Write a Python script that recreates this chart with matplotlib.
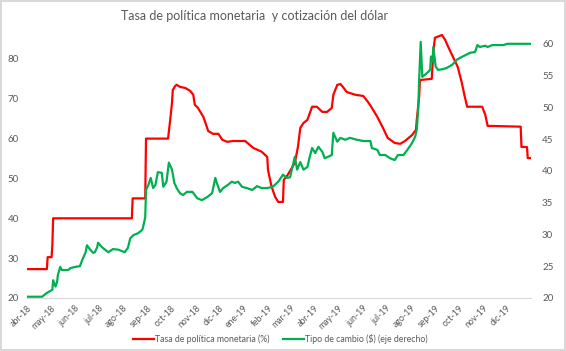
import pandas as pd
import matplotlib.pyplot as plt
import matplotlib.dates as mdates

plt.rcParams['font.family'] = ['Lato', 'DejaVu Sans']

TITLE = "Tasa de política monetaria  y cotización del dólar"
RATE_LABEL = "Tasa de política monetaria (%)"
FX_LABEL = "Tipo de cambio ($) (eje derecho)"
MONTHS_ES = ["ene", "feb", "mar", "abr", "may", "jun",
             "jul", "ago", "sep", "oct", "nov", "dic"]

# policy rate (left axis)
rate_dates = [
    "2018-04-01", "2018-04-26", "2018-04-27", "2018-05-02", "2018-05-03", "2018-05-04",
    "2018-08-12", "2018-08-13", "2018-08-29", "2018-08-30", "2018-09-27", "2018-09-30",
    "2018-10-02", "2018-10-03", "2018-10-06", "2018-10-08", "2018-10-12", "2018-10-19",
    "2018-10-25", "2018-10-29", "2018-10-31", "2018-11-04", "2018-11-11", "2018-11-17",
    "2018-11-23", "2018-11-30", "2018-12-05", "2018-12-11", "2018-12-19", "2019-01-03",
    "2019-01-13", "2019-01-24", "2019-01-31", "2019-02-01", "2019-02-05", "2019-02-07",
    "2019-02-10", "2019-02-14", "2019-02-20", "2019-02-21", "2019-02-26", "2019-03-07",
    "2019-03-11", "2019-03-14", "2019-03-18", "2019-03-23", "2019-03-29", "2019-04-04",
    "2019-04-11", "2019-04-17", "2019-04-23", "2019-04-25", "2019-04-30", "2019-05-04",
    "2019-05-07", "2019-05-12", "2019-05-23", "2019-06-02", "2019-06-08", "2019-06-13",
    "2019-06-20", "2019-06-27", "2019-07-03", "2019-07-12", "2019-07-19", "2019-07-25",
    "2019-08-03", "2019-08-08", "2019-08-09", "2019-08-12", "2019-08-13", "2019-08-28",
    "2019-08-30", "2019-09-01", "2019-09-10", "2019-09-14", "2019-09-18", "2019-09-24",
    "2019-09-30", "2019-10-05", "2019-10-09", "2019-10-12", "2019-10-31", "2019-11-04",
    "2019-11-07", "2019-12-19", "2019-12-20", "2019-12-27", "2019-12-28", "2019-12-31",
]
rate_values = [
    27.25, 27.25, 30.25, 30.25, 33.25, 40.0,
    40.0, 45.0, 45.0, 60.0, 60.0, 65.2,
    69.0, 72.2, 73.2, 73.5, 73.0, 72.7,
    72.0, 71.0, 68.5, 67.7, 65.4, 61.9,
    61.2, 61.2, 59.7, 59.2, 59.4, 59.4,
    57.7, 56.7, 55.4, 52.1, 48.4, 47.1,
    45.4, 44.1, 44.1, 49.6, 50.9, 53.9,
    57.9, 62.7, 63.9, 64.7, 68.0, 68.0,
    66.7, 66.7, 67.7, 71.0, 73.5, 73.7,
    73.0, 71.7, 71.0, 70.7, 69.2, 67.7,
    65.4, 62.7, 60.2, 58.9, 58.7, 59.4,
    60.9, 62.2, 64.7, 70.5, 74.7, 75.0,
    81.5, 85.3, 86.0, 84.8, 83.0, 80.5,
    78.0, 74.2, 70.5, 68.0, 68.0, 66.0,
    63.2, 63.0, 57.9, 57.9, 55.1, 55.1,
]

# exchange rate (right axis)
fx_dates = [
    "2018-04-01", "2018-04-20", "2018-04-26", "2018-05-03", "2018-05-04", "2018-05-07",
    "2018-05-09", "2018-05-10", "2018-05-13", "2018-05-15", "2018-05-23", "2018-05-26",
    "2018-06-01", "2018-06-07", "2018-06-10", "2018-06-14", "2018-06-16", "2018-06-20",
    "2018-06-24", "2018-06-26", "2018-06-29", "2018-06-30", "2018-07-05", "2018-07-13",
    "2018-07-19", "2018-07-26", "2018-08-03", "2018-08-07", "2018-08-10", "2018-08-14",
    "2018-08-20", "2018-08-25", "2018-08-26", "2018-08-29", "2018-08-30", "2018-09-02",
    "2018-09-05", "2018-09-08", "2018-09-11", "2018-09-14", "2018-09-19", "2018-09-21",
    "2018-09-25", "2018-09-28", "2018-10-02", "2018-10-05", "2018-10-08", "2018-10-12",
    "2018-10-16", "2018-10-21", "2018-10-28", "2018-11-03", "2018-11-09", "2018-11-16",
    "2018-11-22", "2018-11-26", "2018-11-28", "2018-12-02", "2018-12-06", "2018-12-12",
    "2018-12-17", "2018-12-21", "2018-12-25", "2018-12-30", "2019-01-05", "2019-01-12",
    "2019-01-18", "2019-01-24", "2019-01-31", "2019-02-07", "2019-02-14", "2019-02-20",
    "2019-02-25", "2019-03-01", "2019-03-07", "2019-03-10", "2019-03-14", "2019-03-18",
    "2019-03-23", "2019-03-26", "2019-03-29", "2019-04-02", "2019-04-06", "2019-04-11",
    "2019-04-14", "2019-04-18", "2019-04-23", "2019-04-25", "2019-04-30", "2019-05-04",
    "2019-05-10", "2019-05-16", "2019-05-25", "2019-06-02", "2019-06-11", "2019-06-13",
    "2019-06-20", "2019-06-23", "2019-06-30", "2019-07-06", "2019-07-12", "2019-07-16",
    "2019-07-23", "2019-07-28", "2019-08-03", "2019-08-07", "2019-08-09", "2019-08-11",
    "2019-08-12", "2019-08-14", "2019-08-15", "2019-08-16", "2019-08-18", "2019-08-22",
    "2019-08-26", "2019-08-27", "2019-08-29", "2019-08-30", "2019-09-02", "2019-09-05",
    "2019-09-11", "2019-09-16", "2019-09-23", "2019-09-29", "2019-10-03", "2019-10-16",
    "2019-10-22", "2019-10-25", "2019-10-28", "2019-11-04", "2019-11-07", "2019-11-13",
    "2019-11-27", "2019-12-02", "2019-12-31",
]
fx_values = [
    20.2, 20.2, 20.8, 21.3, 22.8, 21.8,
    22.5, 23.6, 24.9, 24.4, 24.4, 24.7,
    24.9, 25.0, 26.0, 27.1, 28.3, 27.6,
    27.1, 27.2, 28.0, 28.7, 28.0, 27.2,
    27.7, 27.6, 27.2, 27.9, 29.4, 29.9,
    30.2, 30.7, 31.0, 32.7, 37.0, 37.8,
    38.9, 37.3, 37.8, 39.8, 39.7, 37.5,
    38.3, 41.3, 40.2, 38.1, 37.3, 36.5,
    36.2, 36.7, 36.7, 35.7, 35.4, 35.9,
    36.5, 38.9, 38.1, 36.7, 37.3, 37.8,
    38.3, 38.1, 38.3, 37.5, 37.3, 37.0,
    37.6, 37.3, 37.3, 37.5, 38.3, 39.4,
    38.9, 39.0, 42.2, 40.2, 41.4, 40.2,
    40.6, 42.2, 43.6, 42.8, 43.8, 43.0,
    42.0, 42.2, 42.5, 46.0, 44.6, 45.2,
    44.9, 45.2, 44.9, 44.7, 44.7, 43.6,
    43.3, 42.5, 42.5, 42.0, 41.7, 42.5,
    42.5, 43.3, 44.4, 45.4, 46.5, 50.1,
    54.3, 60.3, 57.5, 54.8, 55.0, 55.4,
    55.9, 58.0, 57.2, 59.5, 56.4, 55.9,
    56.0, 56.2, 56.7, 57.5, 57.8, 58.6,
    58.7, 59.8, 59.5, 59.7, 59.5, 59.8,
    59.8, 60.0, 60.0,
]

rate = pd.Series(rate_values, index=pd.to_datetime(rate_dates))
fx = pd.Series(fx_values, index=pd.to_datetime(fx_dates))

grey = "#595959"
fig = plt.figure(figsize=(5.66, 3.51), dpi=100)
fig.patch.set_edgecolor("#d9d9d9")
fig.patch.set_linewidth(1.5)
ax = fig.add_axes([0.048, 0.151, 0.89, 0.764])
ax2 = ax.twinx()

l1, = ax.plot(rate.index, rate.values, color="#ff0000", lw=1.6, label=RATE_LABEL)
l2, = ax2.plot(fx.index, fx.values, color="#00b050", lw=1.6, label=FX_LABEL)

ax.set_xlim(pd.Timestamp("2018-04-01"), pd.Timestamp("2020-01-01"))
ax.set_ylim(20, 87.3)
ax2.set_ylim(20, 62.2)
ax.set_yticks(range(20, 81, 10))
ax2.set_yticks(range(20, 61, 5))

ax.set_xticks(pd.date_range("2018-04-01", "2019-12-01", freq="MS"))
ax.xaxis.set_major_formatter(plt.FuncFormatter(
    lambda v, p: (lambda d: f"{MONTHS_ES[d.month - 1]}-{d.strftime('%y')}")(mdates.num2date(v))))

for a in (ax, ax2):
    for s in a.spines.values():
        s.set_visible(False)
    a.tick_params(length=0, labelsize=7, labelcolor=grey)
ax.spines["bottom"].set_visible(True)
ax.spines["bottom"].set_color("#d9d9d9")
ax.tick_params(axis="y", pad=6)
ax2.tick_params(axis="y", pad=8)
for lbl in ax.get_xticklabels():
    lbl.set_rotation(45)
    lbl.set_ha("right")
    lbl.set_rotation_mode("anchor")
ax.tick_params(axis="x", pad=4, labelsize=6.3)

fig.text(0.45, 0.955, TITLE, ha="center", va="center", fontsize=9, color=grey)
fig.legend(handles=[l1, l2], loc="center", bbox_to_anchor=(0.495, 0.034), ncol=2,
           frameon=False, fontsize=6.3, labelcolor=grey, handlelength=2.4,
           handletextpad=0.05, columnspacing=1.6)

fig.savefig("out.png", dpi=100)
